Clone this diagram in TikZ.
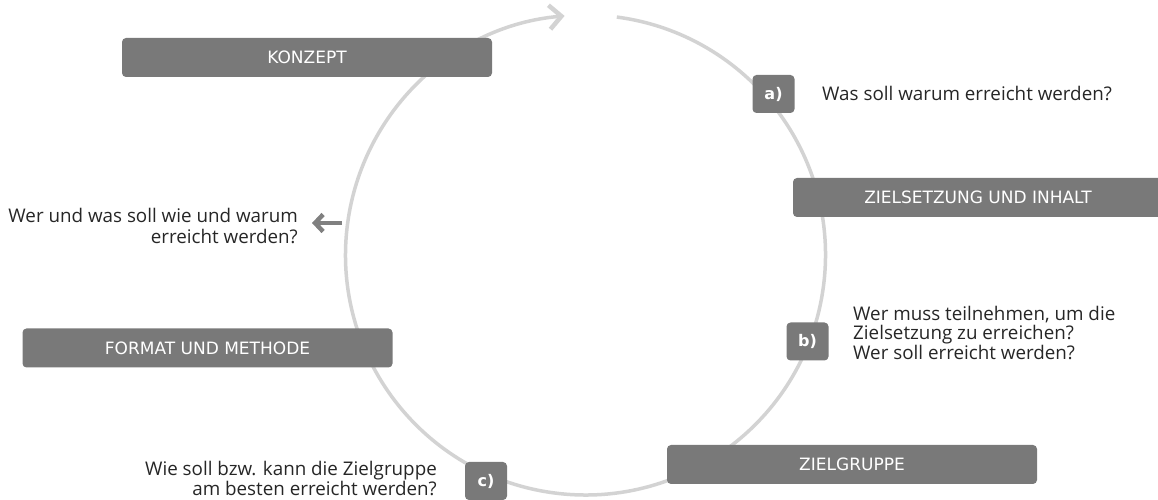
\documentclass[tikz,border=0pt]{standalone}
\usepackage{fontspec}
\setmainfont{Open Sans}
\newfontfamily\boxfont{DejaVu Sans}
\usetikzlibrary{arrows.meta}
\definecolor{boxgray}{HTML}{797979}
\definecolor{ringgray}{HTML}{D3D3D3}
\definecolor{txtgray}{HTML}{262626}
\definecolor{arrgray}{HTML}{808080}
\tikzset{
  phase/.style={draw=none, fill=boxgray, rounded corners=4pt, minimum width=370pt,
    minimum height=39pt, inner sep=0pt, text=white, font=\boxfont\fontsize{17}{19}\selectfont},
  tag/.style={fill=boxgray, rounded corners=4pt, minimum width=42pt, minimum height=38pt,
    inner sep=0pt, text=white, font=\boxfont\bfseries\fontsize{16}{18}\selectfont},
  question/.style={inner sep=0pt, text=txtgray, font=\fontsize{18.8}{18.5}\selectfont},
  ring/.style={draw=ringgray, line width=3.5pt, -{Straight Barb[length=12pt,width=24pt,line width=4.5pt]}},
  pointer/.style={draw=arrgray, line width=3.5pt, -{Straight Barb[length=8pt,width=17pt,line width=4.5pt]}}
}
\begin{document}
\begin{tikzpicture}[x=1pt,y=1pt]
\useasboundingbox (0,0) rectangle (1158,500);
\coordinate (c) at (585.5,245);
% cycle ring
\draw[ring] (c) ++(82.5:240) arc[start angle=82.5, end angle=-265, radius=240];
% phase boxes
\node[phase] (konzept) at (307,442.5) {KONZEPT};
\node[phase] (ziel) at (978,302.5) {ZIELSETZUNG UND INHALT};
\node[phase] (format) at (207.5,152) {FORMAT UND METHODE};
\node[phase] (gruppe) at (852,35.5) {ZIELGRUPPE};
% tags
\node[tag] (ta) at (773.5,406) {a)};
\node[tag] (tb) at (807.5,158.5) {b)};
\node[tag] (tc) at (486,19) {c)};
% questions
\node[question, anchor=west] (qa) at (822,407) {Was soll warum erreicht werden?};
\node[question, anchor=west, align=left] (qb) at (853,167) {Wer muss teilnehmen, um die\\Zielsetzung zu erreichen?\\Wer soll erreicht werden?};
\node[question, anchor=east, align=right, font=\fontsize{18.8}{21.5}\selectfont] (ql) at (298,274) {Wer und was soll wie und warum\\erreicht werden?};
\node[question, anchor=east, align=right, font=\fontsize{18.8}{17.5}\selectfont] (qc) at (437,21.5) {Wie soll bzw. kann die Zielgruppe\\am besten erreicht werden?};
% pointer arrow
\coordinate (pa) at (342,277);
\coordinate (pb) at (312,277);
\draw[pointer] (pa) -- (pb);
\end{tikzpicture}
\end{document}
